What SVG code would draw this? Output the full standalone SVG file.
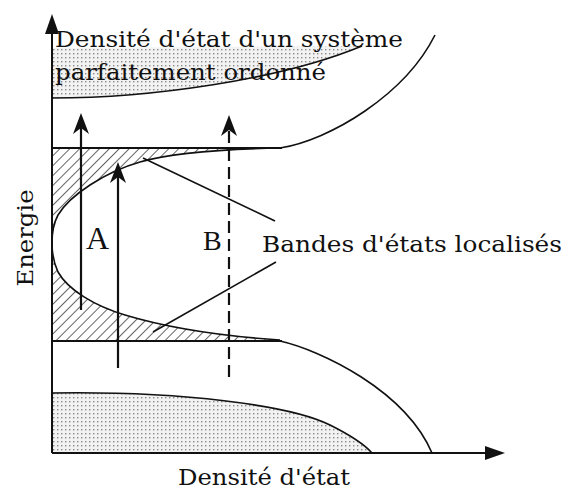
<svg xmlns="http://www.w3.org/2000/svg" width="561" height="491" viewBox="0 0 561 491">
<style>
.ln{fill:none;stroke:#111;stroke-width:1.6}
.ax{fill:none;stroke:#111;stroke-width:2}
.arr{fill:none;stroke:#111;stroke-width:2.2}
.t{font-family:"DejaVu Serif","Liberation Serif",serif;fill:#111}
</style>
<defs>
<pattern id="dots" patternUnits="userSpaceOnUse" width="4" height="4">
<rect width="4" height="4" fill="#f2f2f2"/>
<rect x="1" y="1" width="1.4" height="1.4" fill="#8a8a8a"/>
</pattern>
<pattern id="hatch" patternUnits="userSpaceOnUse" width="7" height="7" patternTransform="rotate(45)">
<line x1="0" y1="0" x2="0" y2="7" stroke="#111" stroke-width="1.3"/>
</pattern>
<marker id="head" markerUnits="userSpaceOnUse" markerWidth="30" markerHeight="30" refX="0" refY="0" orient="auto" overflow="visible" viewBox="-15 -15 30 30">
<path d="M10,0 L-11,-8 L-5,0 L-11,8 Z" fill="#111"/>
</marker>
<marker id="axhead" markerUnits="userSpaceOnUse" markerWidth="30" markerHeight="30" refX="0" refY="0" orient="auto" overflow="visible" viewBox="-15 -15 30 30">
<path d="M8,0 L-12,-7 L-12,7 Z" fill="#111"/>
</marker>
</defs>
<rect width="561" height="491" fill="#fff"/>

<g id="ordered-bands">
<path d="M52,48 L362,46 C280,80 150,98 52,98 Z" fill="url(#dots)"/>
<path class="ln" d="M52,98 C150,98 280,80 362,46"/>
<path d="M52,453 L52,393 C180,391 290,405 330,425 C352,436 365,445 372,453 Z" fill="url(#dots)"/>
<path class="ln" d="M52,393 C180,391 290,405 330,425 C352,436 365,445 372,453"/>
</g>

<g id="localized-bands">
<rect x="52" y="148" width="228" height="193" fill="url(#hatch)"/>
<path d="M280,148 C230,149 175,152 140,162 C105,172 70,195 58,215 C50,230 50,255 58,272 C68,290 95,306 125,315 C165,327 220,336 280,340 Z" fill="#fff"/>
<path class="ln" d="M280,148 C230,149 175,152 140,162 C105,172 70,195 58,215 C50,230 50,255 58,272 C68,290 95,306 125,315 C165,327 220,336 280,340"/>
<line class="ax" x1="52" y1="148" x2="282" y2="148"/>
<line class="ax" x1="52" y1="341" x2="282" y2="341"/>
</g>

<g id="disordered-dos">
<path class="ln" d="M280,148 C330,140 405,95 435,35"/>
<path class="ln" d="M280,341 C320,350 405,390 432,453"/>
</g>

<g id="axes">
<line class="ax" x1="52" y1="453" x2="52" y2="22" marker-end="url(#axhead)"/>
<line class="ax" x1="52" y1="453" x2="497" y2="453" marker-end="url(#axhead)"/>
</g>

<g id="connectors">
<line class="arr" x1="81" y1="310" x2="81" y2="123" marker-end="url(#head)"/>
<line class="arr" x1="118" y1="368" x2="118" y2="172" marker-end="url(#head)"/>
<line class="arr" x1="229" y1="377" x2="229" y2="125" stroke-dasharray="12 6" marker-end="url(#head)"/>
<line class="ln" x1="143" y1="158" x2="275" y2="221"/>
<line class="ln" x1="153" y1="332" x2="276" y2="262"/>
</g>

<g id="labels">
<text class="t" x="55" y="47" font-size="22" textLength="348" lengthAdjust="spacingAndGlyphs">Densité d'état d'un système</text>
<text class="t" x="55" y="80" font-size="22" textLength="271" lengthAdjust="spacingAndGlyphs">parfaitement ordonné</text>
<text class="t" x="262" y="252" font-size="23" textLength="300" lengthAdjust="spacingAndGlyphs">Bandes d'états localisés</text>
<text class="t" x="178" y="485" font-size="23" textLength="172" lengthAdjust="spacingAndGlyphs">Densité d'état</text>
<text class="t" transform="translate(33,238) rotate(-90)" text-anchor="middle" font-size="22" textLength="97" lengthAdjust="spacingAndGlyphs">Energie</text>
<text x="86" y="249" font-family="'Liberation Serif',serif" font-size="32" fill="#111">A</text>
<text x="203" y="250" font-family="'Liberation Serif',serif" font-size="28" fill="#111">B</text>
</g>
</svg>
